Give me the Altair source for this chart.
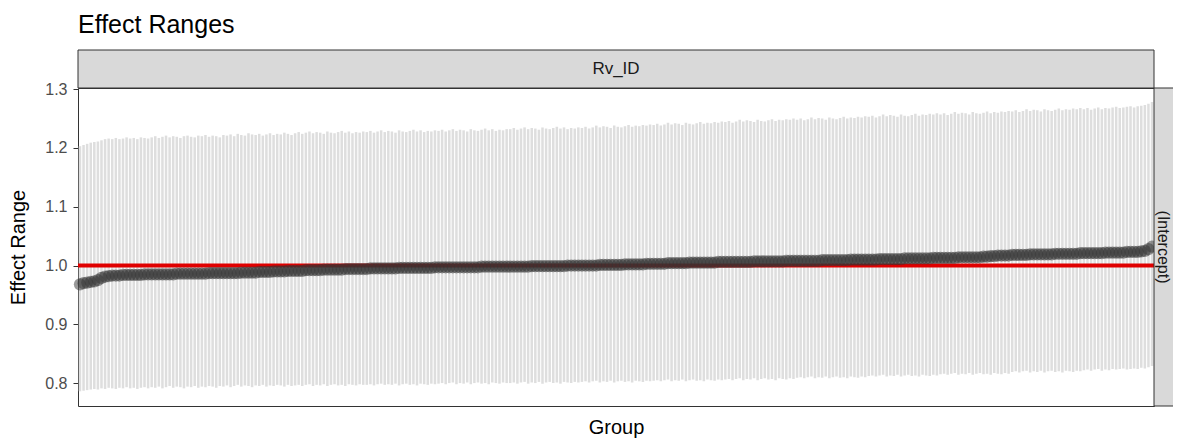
import altair as alt
import pandas as pd

# ---- data (groups sorted by estimate) ----
estimate = [
    0.968, 0.970, 0.971, 0.972, 0.973, 0.975, 0.979, 0.981, 0.982, 0.983, 0.983, 0.983, 0.984, 0.984, 0.984, 0.984, 0.984, 0.984, 0.985, 0.985,
    0.985, 0.985, 0.985, 0.985, 0.985, 0.985, 0.985, 0.986, 0.986, 0.986, 0.986, 0.986, 0.986, 0.986, 0.986, 0.986, 0.987, 0.987, 0.987, 0.987,
    0.987, 0.987, 0.987, 0.987, 0.987, 0.988, 0.988, 0.988, 0.988, 0.988, 0.989, 0.989, 0.989, 0.989, 0.990, 0.990, 0.990, 0.990, 0.991, 0.991,
    0.991, 0.991, 0.991, 0.992, 0.992, 0.992, 0.992, 0.992, 0.993, 0.993, 0.993, 0.993, 0.993, 0.993, 0.994, 0.994, 0.994, 0.994, 0.994, 0.994,
    0.994, 0.995, 0.995, 0.995, 0.995, 0.995, 0.995, 0.995, 0.995, 0.996, 0.996, 0.996, 0.996, 0.996, 0.996, 0.996, 0.996, 0.996, 0.996, 0.997,
    0.997, 0.997, 0.997, 0.997, 0.997, 0.997, 0.997, 0.997, 0.997, 0.997, 0.997, 0.997, 0.998, 0.998, 0.998, 0.998, 0.998, 0.998, 0.998, 0.998,
    0.998, 0.998, 0.998, 0.998, 0.998, 0.998, 0.999, 0.999, 0.999, 0.999, 0.999, 0.999, 0.999, 0.999, 0.999, 0.999, 1.000, 1.000, 1.000, 1.000,
    1.000, 1.000, 1.000, 1.000, 1.000, 1.001, 1.001, 1.001, 1.001, 1.001, 1.001, 1.001, 1.002, 1.002, 1.002, 1.002, 1.002, 1.002, 1.003, 1.003,
    1.003, 1.003, 1.003, 1.003, 1.004, 1.004, 1.004, 1.004, 1.004, 1.004, 1.005, 1.005, 1.005, 1.005, 1.005, 1.005, 1.005, 1.005, 1.006, 1.006,
    1.006, 1.006, 1.006, 1.006, 1.006, 1.006, 1.006, 1.006, 1.007, 1.007, 1.007, 1.007, 1.007, 1.007, 1.007, 1.007, 1.007, 1.008, 1.008, 1.008,
    1.008, 1.008, 1.008, 1.008, 1.008, 1.008, 1.008, 1.009, 1.009, 1.009, 1.009, 1.009, 1.009, 1.009, 1.009, 1.010, 1.010, 1.010, 1.010, 1.010,
    1.010, 1.010, 1.010, 1.011, 1.011, 1.011, 1.011, 1.011, 1.011, 1.011, 1.012, 1.012, 1.012, 1.012, 1.012, 1.012, 1.012, 1.012, 1.013, 1.013,
    1.013, 1.013, 1.013, 1.013, 1.013, 1.014, 1.014, 1.014, 1.014, 1.014, 1.014, 1.014, 1.015, 1.015, 1.016, 1.016, 1.017, 1.017, 1.017, 1.017,
    1.018, 1.018, 1.018, 1.018, 1.018, 1.019, 1.019, 1.019, 1.019, 1.019, 1.019, 1.019, 1.020, 1.020, 1.020, 1.020, 1.020, 1.020, 1.020, 1.021,
    1.021, 1.021, 1.021, 1.021, 1.021, 1.021, 1.022, 1.022, 1.022, 1.022, 1.022, 1.022, 1.023, 1.023, 1.023, 1.023, 1.024, 1.025, 1.028, 1.032,
]

upper = [
    1.203, 1.205, 1.207, 1.209, 1.210, 1.211, 1.213, 1.215, 1.216, 1.215, 1.217, 1.215, 1.216, 1.218, 1.216, 1.217, 1.215, 1.218, 1.217, 1.216,
    1.218, 1.220, 1.217, 1.219, 1.221, 1.218, 1.220, 1.219, 1.217, 1.220, 1.221, 1.219, 1.218, 1.221, 1.220, 1.222, 1.219, 1.221, 1.220, 1.218,
    1.222, 1.221, 1.223, 1.220, 1.224, 1.222, 1.221, 1.225, 1.223, 1.222, 1.224, 1.221, 1.223, 1.225, 1.222, 1.224, 1.223, 1.226, 1.224, 1.222,
    1.225, 1.227, 1.224, 1.226, 1.228, 1.225, 1.227, 1.226, 1.224, 1.228, 1.226, 1.225, 1.227, 1.229, 1.226, 1.228, 1.225, 1.227, 1.226, 1.228,
    1.227, 1.229, 1.226, 1.228, 1.230, 1.227, 1.229, 1.228, 1.226, 1.230, 1.228, 1.227, 1.229, 1.231, 1.228, 1.230, 1.227, 1.229, 1.228, 1.230,
    1.229, 1.231, 1.228, 1.230, 1.232, 1.229, 1.231, 1.230, 1.228, 1.232, 1.230, 1.229, 1.231, 1.233, 1.230, 1.232, 1.229, 1.231, 1.230, 1.232,
    1.232, 1.234, 1.231, 1.233, 1.235, 1.232, 1.234, 1.233, 1.231, 1.235, 1.233, 1.232, 1.234, 1.236, 1.233, 1.235, 1.232, 1.234, 1.233, 1.235,
    1.234, 1.236, 1.233, 1.235, 1.238, 1.235, 1.237, 1.236, 1.234, 1.238, 1.236, 1.235, 1.237, 1.239, 1.236, 1.238, 1.237, 1.239, 1.238, 1.240,
    1.239, 1.241, 1.238, 1.240, 1.243, 1.240, 1.242, 1.241, 1.239, 1.243, 1.241, 1.240, 1.242, 1.244, 1.241, 1.243, 1.242, 1.244, 1.243, 1.245,
    1.244, 1.246, 1.243, 1.245, 1.248, 1.245, 1.247, 1.246, 1.244, 1.248, 1.246, 1.245, 1.247, 1.249, 1.246, 1.248, 1.247, 1.249, 1.248, 1.250,
    1.248, 1.250, 1.247, 1.249, 1.252, 1.249, 1.251, 1.250, 1.248, 1.252, 1.250, 1.249, 1.251, 1.253, 1.250, 1.252, 1.251, 1.253, 1.252, 1.254,
    1.253, 1.255, 1.252, 1.254, 1.257, 1.254, 1.256, 1.255, 1.253, 1.257, 1.255, 1.254, 1.256, 1.258, 1.255, 1.257, 1.256, 1.258, 1.257, 1.259,
    1.257, 1.259, 1.256, 1.258, 1.261, 1.258, 1.260, 1.259, 1.257, 1.261, 1.259, 1.258, 1.260, 1.262, 1.259, 1.261, 1.260, 1.262, 1.261, 1.263,
    1.262, 1.264, 1.261, 1.263, 1.266, 1.263, 1.265, 1.264, 1.262, 1.266, 1.264, 1.263, 1.265, 1.267, 1.264, 1.266, 1.265, 1.267, 1.266, 1.268,
    1.266, 1.268, 1.265, 1.267, 1.269, 1.266, 1.268, 1.267, 1.269, 1.270, 1.268, 1.269, 1.270, 1.271, 1.269, 1.271, 1.272, 1.273, 1.275, 1.278,
]

lower = [
    0.786, 0.787, 0.788, 0.789, 0.790, 0.789, 0.791, 0.790, 0.792, 0.791, 0.790, 0.792, 0.791, 0.793, 0.791, 0.792, 0.790, 0.792, 0.793, 0.791,
    0.793, 0.792, 0.794, 0.791, 0.793, 0.795, 0.792, 0.794, 0.793, 0.791, 0.794, 0.793, 0.795, 0.792, 0.794, 0.793, 0.795, 0.794, 0.792, 0.795,
    0.794, 0.796, 0.793, 0.795, 0.797, 0.794, 0.796, 0.795, 0.793, 0.796, 0.795, 0.797, 0.794, 0.796, 0.795, 0.797, 0.796, 0.794, 0.797, 0.795,
    0.796, 0.797, 0.795, 0.797, 0.798, 0.795, 0.797, 0.796, 0.798, 0.795, 0.797, 0.798, 0.796, 0.797, 0.795, 0.798, 0.797, 0.796, 0.798, 0.797,
    0.797, 0.798, 0.796, 0.798, 0.799, 0.797, 0.798, 0.797, 0.799, 0.796, 0.798, 0.799, 0.797, 0.798, 0.796, 0.799, 0.798, 0.797, 0.799, 0.798,
    0.799, 0.800, 0.798, 0.800, 0.801, 0.798, 0.800, 0.799, 0.801, 0.798, 0.800, 0.801, 0.799, 0.800, 0.798, 0.801, 0.800, 0.799, 0.801, 0.800,
    0.800, 0.801, 0.799, 0.801, 0.802, 0.799, 0.801, 0.800, 0.802, 0.799, 0.801, 0.802, 0.800, 0.801, 0.799, 0.802, 0.801, 0.800, 0.802, 0.801,
    0.802, 0.803, 0.801, 0.803, 0.804, 0.801, 0.803, 0.802, 0.804, 0.801, 0.803, 0.804, 0.802, 0.803, 0.801, 0.804, 0.803, 0.802, 0.804, 0.803,
    0.804, 0.805, 0.803, 0.805, 0.806, 0.803, 0.805, 0.804, 0.806, 0.803, 0.805, 0.806, 0.804, 0.805, 0.803, 0.806, 0.805, 0.804, 0.806, 0.805,
    0.806, 0.807, 0.805, 0.807, 0.808, 0.805, 0.807, 0.806, 0.808, 0.805, 0.807, 0.808, 0.806, 0.807, 0.805, 0.808, 0.807, 0.806, 0.808, 0.807,
    0.809, 0.810, 0.808, 0.810, 0.811, 0.808, 0.810, 0.809, 0.811, 0.808, 0.810, 0.811, 0.809, 0.810, 0.808, 0.811, 0.810, 0.809, 0.811, 0.810,
    0.812, 0.813, 0.811, 0.813, 0.814, 0.811, 0.813, 0.812, 0.814, 0.811, 0.813, 0.814, 0.812, 0.813, 0.811, 0.814, 0.813, 0.812, 0.814, 0.813,
    0.815, 0.816, 0.814, 0.816, 0.817, 0.814, 0.816, 0.815, 0.817, 0.814, 0.816, 0.817, 0.815, 0.816, 0.814, 0.817, 0.816, 0.815, 0.817, 0.816,
    0.819, 0.820, 0.818, 0.820, 0.821, 0.818, 0.820, 0.819, 0.821, 0.818, 0.820, 0.821, 0.819, 0.820, 0.818, 0.821, 0.820, 0.819, 0.821, 0.820,
    0.822, 0.823, 0.821, 0.823, 0.824, 0.821, 0.823, 0.822, 0.824, 0.823, 0.824, 0.825, 0.823, 0.824, 0.825, 0.824, 0.826, 0.825, 0.827, 0.829,
]

reference_value = [1.0]
y_ticks = [0.8, 0.9, 1.0, 1.1, 1.2, 1.3]
y_domain = [0.761, 1.302]
title_text = "Effect Ranges"
column_strip = "Rv_ID"
row_strip = "(Intercept)"
x_title = "Group"
y_title = "Effect Range"

FONT = "Liberation Sans"
W, H = 1076, 318
STRIP_TOP = 38
STRIP_RIGHT = 40

n = len(estimate)
df = pd.DataFrame({
    "rank": list(range(1, n + 1)),
    "estimate": estimate,
    "lower": lower,
    "upper": upper,
})

x_scale = alt.Scale(paddingInner=0.3, paddingOuter=0.2)
y_scale = alt.Scale(domain=y_domain, nice=False, zero=False)

x_axis = alt.Axis(title=x_title, labels=False, ticks=False, domain=False,
                  titleY=27, titleBaseline="alphabetic")
y_axis = alt.Axis(title=y_title, values=y_ticks, format=".1f",
                  titleX=-60, titleY=H / 2, titleAngle=270,
                  titleBaseline="middle")

bars = alt.Chart(df).mark_bar(color="#dedede").encode(
    x=alt.X("rank:O", scale=x_scale, axis=x_axis),
    y=alt.Y("lower:Q", scale=y_scale, axis=y_axis),
    y2="upper:Q",
)

ref_df = pd.DataFrame({"ref": reference_value})
ref_line = alt.Chart(ref_df).mark_rule(color="#e00000", strokeWidth=4).encode(
    y=alt.Y("ref:Q", scale=y_scale, axis=y_axis)
)

points = alt.Chart(df).mark_circle(size=150, color="#333333", opacity=0.5).encode(
    x=alt.X("rank:O", scale=x_scale, axis=x_axis),
    y=alt.Y("estimate:Q", scale=y_scale, axis=y_axis),
)

lab_df = pd.DataFrame({"col": [column_strip], "row": [row_strip], "title": [title_text]})

top_strip = alt.Chart(lab_df).mark_rect(fill="#d9d9d9", stroke="#333333", strokeWidth=1).encode(
    x=alt.value(0), x2=alt.value(W), y=alt.value(-STRIP_TOP), y2=alt.value(0)
)
top_text = alt.Chart(lab_df).mark_text(font=FONT, fontSize=17, color="#1a1a1a").encode(
    x=alt.value(W / 2), y=alt.value(-STRIP_TOP / 2), text="col:N"
)
right_strip = alt.Chart(lab_df).mark_rect(fill="#d9d9d9", stroke="#333333", strokeWidth=1).encode(
    x=alt.value(W), x2=alt.value(W + STRIP_RIGHT), y=alt.value(0), y2=alt.value(H)
)
right_text = alt.Chart(lab_df).mark_text(font=FONT, fontSize=16, color="#1a1a1a", angle=90).encode(
    x=alt.value(W + 9), y=alt.value(H / 2), text="row:N"
)
title_mark = alt.Chart(lab_df).mark_text(font=FONT, fontSize=25, color="#000000",
                                         align="left", baseline="alphabetic").encode(
    x=alt.value(0), y=alt.value(-55), text="title:N"
)

chart = alt.layer(
    bars, ref_line, points, top_strip, top_text, right_strip, right_text, title_mark
).properties(
    width=W, height=H,
    autosize=alt.AutoSizeParams(type="none"),
    padding={"left": 70, "top": 80, "right": 19, "bottom": 33},
).configure_view(
    stroke="#333333", strokeWidth=1
).configure_axis(
    grid=False, domain=False,
    labelFont=FONT, labelFontSize=16, labelColor="#4d4d4d", labelPadding=6,
    tickColor="#333333", tickSize=5,
    titleFont=FONT, titleFontSize=20, titleFontWeight="normal", titleColor="#000000",
)

chart.save("out.html", embed_options={"renderer": "svg", "actions": False})
